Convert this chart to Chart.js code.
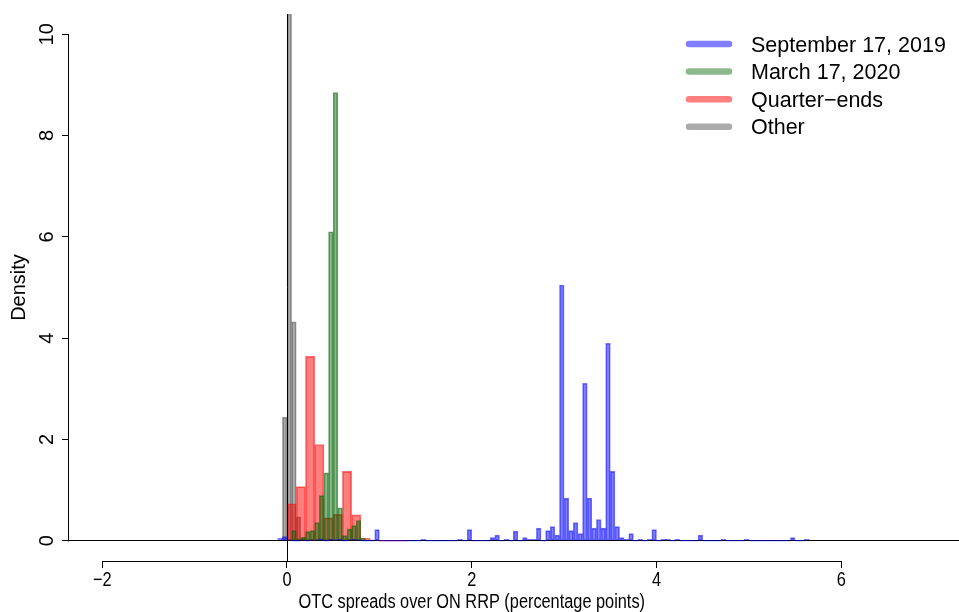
<!DOCTYPE html>
<html lang="en">
<head>
    <meta charset="UTF-8">
    <title>OTC spreads over ON RRP</title>
    <script src="https://cdn.jsdelivr.net/npm/chart.js"></script>
    <style>
        body { margin: 0; background: #fff; }
        canvas { display: block; }
    </style>
</head>
<body>
    <canvas id="spreadChart" width="959" height="612"></canvas>
    <script>
        // Histogram densities (right-closed bins, one value per bin)
        const seriesLabels = ['September 17, 2019', 'March 17, 2020', 'Quarter\u2212ends', 'Other'];
        const binStart = [-0.1, 0, 0, -0.05];
        const binWidth = [0.05, 0.05, 0.1, 0.05];

        const sepDensity = [
            0.05, 0.08, 0.02, 0, 0, 0.02, 0, 0.02, 0.02, 0.04,
            0, 0.03, 0.02, 0.03, 0, 0.02, 0.03, 0.02, 0, 0,
            0, 0.22, 0, 0, 0, 0, 0, 0, 0, 0,
            0, 0.03, 0, 0, 0, 0, 0, 0, 0, 0.03,
            0, 0.22, 0, 0, 0, 0, 0.06, 0.11, 0, 0.03,
            0, 0.19, 0, 0.06, 0.03, 0.03, 0.25, 0, 0.2, 0.28,
            0.11, 5.05, 0.84, 0.2, 0.36, 0.14, 3.11, 0.84, 0.25, 0.42,
            0.25, 3.9, 1.37, 0.28, 0.06, 0.03, 0.14, 0, 0.03, 0,
            0.03, 0.22, 0, 0.03, 0.03, 0, 0.03, 0, 0, 0,
            0, 0.11, 0, 0, 0, 0, 0.03, 0, 0, 0,
            0, 0.03, 0, 0, 0, 0, 0, 0, 0, 0,
            0, 0.06, 0, 0, 0.03
        ];
        const marDensity = [
            0.02, 0.2, 0.04, 0.07, 0.18, 0.2, 0.36, 0.89, 1.34, 6.1,
            8.85, 0.65, 0.1, 0.23, 0.3, 0.4, 0.05, 0.02
        ];
        const qendDensity = [0.73, 1.07, 3.64, 1.9, 0.45, 0.52, 1.37, 0.51, 0.05, 0.02, 0, 0, 0];
        const otherDensity = [2.44, 10.4, 4.32, 0.47, 0.05];

        const xTicks = [-2, 0, 2, 4, 6];
        const yTicks = [0, 2, 4, 6, 8, 10];
        const xTitle = 'OTC spreads over ON RRP (percentage points)';
        const yTitle = 'Density';

        const fillColors = ['rgba(0,0,255,0.5)', 'rgba(0,100,0,0.45)', 'rgba(255,0,0,0.5)', 'rgba(0,0,0,0.33)'];
        const edgeColors = ['rgba(0,0,255,0.55)', 'rgba(0,100,0,0.6)', 'rgba(255,0,0,0.55)', 'rgba(0,0,0,0.36)'];
        const axisIds = ['x', 'xMar', 'xQend', 'xOther'];

        const sansFont = "'Liberation Sans', Arial, sans-serif";
        const xMin = -2.36, xMax = 7.275;
        const squeeze = 0.816; // x-axis text in the figure is horizontally condensed

        // bin midpoints for the bars
        function toBars(density, start, width) {
            return density.map((d, i) => ({ x: start + (i + 0.5) * width, y: d }));
        }

        const allDensity = [sepDensity, marDensity, qendDensity, otherDensity];
        const datasets = allDensity.map((dens, k) => ({
            label: seriesLabels[k],
            data: toBars(dens, binStart[k], binWidth[k]),
            xAxisID: axisIds[k],
            backgroundColor: fillColors[k],
            borderColor: edgeColors[k],
            borderWidth: 1,
            borderSkipped: false,
            barPercentage: 1,
            categoryPercentage: 1,
            minBarLength: 1,
            grouped: false
        }));

        // each series gets its own (hidden) x scale so bar widths follow its own bin width
        function hiddenAxis() {
            return { type: 'linear', display: false, min: xMin, max: xMax, offset: false, grid: { offset: false } };
        }

        function condensedText(ctx, text, cx, baseline) {
            ctx.save();
            ctx.translate(cx, baseline);
            ctx.scale(squeeze, 1);
            ctx.fillText(text, 0, 0);
            ctx.restore();
        }

        const overlay = {
            id: 'overlay',
            afterDatasetsDraw(chart) {
                const { ctx, chartArea, scales: { x } } = chart;
                const x0 = Math.round(x.getPixelForValue(0)) + 0.5;
                ctx.save();
                ctx.strokeStyle = '#000';
                ctx.lineWidth = 1;
                ctx.beginPath();
                ctx.moveTo(x0, chartArea.top);
                ctx.lineTo(x0, chartArea.bottom);
                ctx.stroke();
                ctx.restore();
            },
            afterDraw(chart) {
                const { ctx, chartArea, scales: { x, y } } = chart;
                ctx.save();
                ctx.strokeStyle = '#000';
                ctx.lineWidth = 1;

                // axis lines only over the tick range
                const ax = Math.round(chartArea.left) - 0.5;
                ctx.beginPath();
                ctx.moveTo(ax, Math.round(y.getPixelForValue(yTicks[0])) + 0.5);
                ctx.lineTo(ax, Math.round(y.getPixelForValue(yTicks[yTicks.length - 1])) + 0.5);
                ctx.stroke();
                const ay = Math.round(chartArea.bottom) + 0.5;
                ctx.beginPath();
                ctx.moveTo(Math.round(x.getPixelForValue(xTicks[0])) + 0.5, ay);
                ctx.lineTo(Math.round(x.getPixelForValue(xTicks[xTicks.length - 1])) + 0.5, ay);
                ctx.stroke();

                // rotated y tick labels
                ctx.fillStyle = '#000';
                ctx.font = '20px ' + sansFont;
                ctx.textAlign = 'center';
                ctx.textBaseline = 'alphabetic';
                yTicks.forEach(v => {
                    ctx.save();
                    ctx.translate(53, y.getPixelForValue(v));
                    ctx.rotate(-Math.PI / 2);
                    ctx.fillText(String(v), 0, 0);
                    ctx.restore();
                });

                // x tick labels and title
                xTicks.forEach(v => {
                    condensedText(ctx, String(v).replace('-', '\u2212'), x.getPixelForValue(v), 586);
                });
                condensedText(ctx, xTitle, x.getPixelForValue((xTicks[0] + xTicks[xTicks.length - 1]) / 2), 608);

                // legend
                ctx.font = '21.5px ' + sansFont;
                ctx.textAlign = 'left';
                ctx.lineCap = 'round';
                ctx.lineWidth = 6.5;
                chart.data.datasets.forEach((ds, i) => {
                    const ly = 44 + i * 27.6;
                    ctx.strokeStyle = ds.backgroundColor;
                    ctx.beginPath();
                    ctx.moveTo(689, ly);
                    ctx.lineTo(729, ly);
                    ctx.stroke();
                    ctx.fillText(ds.label, 751, ly + 7.5);
                });
                ctx.restore();
            }
        };

        new Chart(document.getElementById('spreadChart'), {
            type: 'bar',
            data: { datasets: datasets },
            options: {
                responsive: false,
                animation: false,
                layout: { padding: { top: 14, right: 0, bottom: 0, left: 0 } },
                plugins: { legend: { display: false }, tooltip: { enabled: false } },
                scales: {
                    x: {
                        type: 'linear',
                        position: 'bottom',
                        min: xMin,
                        max: xMax,
                        offset: false,
                        afterBuildTicks: s => { s.ticks = xTicks.map(v => ({ value: v })); },
                        afterFit: s => { s.height = 51; },
                        border: { display: false },
                        grid: { offset: false, drawOnChartArea: false, tickLength: 7, tickColor: '#000', color: '#000' },
                        ticks: { display: false }
                    },
                    xMar: hiddenAxis(),
                    xQend: hiddenAxis(),
                    xOther: hiddenAxis(),
                    y: {
                        min: -0.4,
                        max: 10.4,
                        afterBuildTicks: s => { s.ticks = yTicks.map(v => ({ value: v })); },
                        afterFit: s => { s.width = 69; },
                        border: { display: false },
                        grid: {
                            color: c => (c.tick && c.tick.value === 0) ? '#000' : 'rgba(0,0,0,0)',
                            tickColor: '#000',
                            tickLength: 7,
                            lineWidth: 1
                        },
                        ticks: { display: false },
                        title: {
                            display: true,
                            text: yTitle,
                            color: '#000',
                            font: { family: sansFont, size: 20, lineHeight: 1 },
                            padding: { top: 9, bottom: 0 }
                        }
                    }
                }
            },
            plugins: [overlay]
        });
    </script>
</body>
</html>
